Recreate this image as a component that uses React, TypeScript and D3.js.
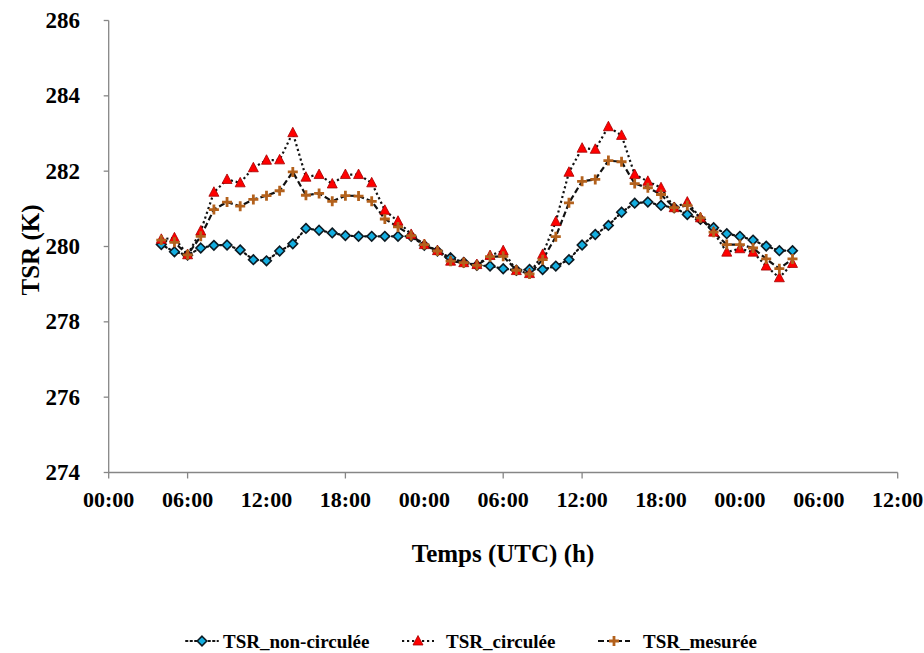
import React from "react";
import * as d3 from "d3";

const hours = [4, 5, 6, 7, 8, 9, 10, 11, 12, 13, 14, 15, 16, 17, 18, 19, 20, 21, 22, 23, 24, 25, 26, 27, 28, 29, 30, 31, 32, 33, 34, 35, 36, 37, 38, 39, 40, 41, 42, 43, 44, 45, 46, 47, 48, 49, 50, 51, 52];

const nonCirculee = [280.05, 279.86, 279.77, 279.96, 280.03, 280.04, 279.91, 279.65, 279.62, 279.88, 280.07, 280.48, 280.43, 280.36, 280.29, 280.27, 280.27, 280.27, 280.27, 280.27, 280.03, 279.88, 279.70, 279.58, 279.50, 279.48, 279.41, 279.37, 279.39, 279.39, 279.48, 279.65, 280.04, 280.32, 280.56, 280.91, 281.15, 281.18, 281.09, 281.03, 280.85, 280.72, 280.50, 280.34, 280.27, 280.17, 280.01, 279.89, 279.89];

const circulee = [280.19, 280.23, 279.78, 280.41, 281.44, 281.78, 281.69, 282.09, 282.29, 282.30, 283.02, 281.84, 281.91, 281.66, 281.91, 281.91, 281.69, 280.96, 280.67, 280.32, 280.05, 279.89, 279.61, 279.57, 279.52, 279.76, 279.89, 279.36, 279.28, 279.79, 280.66, 281.97, 282.61, 282.58, 283.18, 282.95, 281.91, 281.73, 281.56, 281.03, 281.18, 280.76, 280.38, 279.85, 279.94, 279.85, 279.48, 279.17, 279.55];

const mesuree = [280.17, 280.11, 279.78, 280.27, 280.98, 281.18, 281.07, 281.25, 281.35, 281.48, 281.98, 281.36, 281.41, 281.20, 281.35, 281.34, 281.20, 280.73, 280.52, 280.29, 280.05, 279.88, 279.61, 279.57, 279.50, 279.73, 279.74, 279.37, 279.27, 279.65, 280.26, 281.16, 281.73, 281.78, 282.28, 282.25, 281.67, 281.56, 281.38, 281.03, 281.09, 280.76, 280.38, 280.05, 280.05, 279.96, 279.67, 279.41, 279.67];

const xTickHours = [0, 6, 12, 18, 24, 30, 36, 42, 48, 54, 60];
const xTickLabels = ["00:00", "06:00", "12:00", "18:00", "00:00", "06:00", "12:00", "18:00", "00:00", "06:00", "12:00"];
const xTickMarkHours = [0, 6, 18, 30, 36, 60];
const yTicks = [274, 276, 278, 280, 282, 284, 286];

const seriesNames = ["TSR_non-circulée", "TSR_circulée", "TSR_mesurée"];

const FONT = "Liberation Serif";
const AXIS = "#868686";
const txt = (size: number): React.CSSProperties => ({
  fontFamily: FONT,
  fontWeight: 700,
  fontSize: size,
});

function Diamond({ x, y }: { x: number; y: number }) {
  const r = 4.8;
  return (
    <path
      d={`M${x},${y - r}L${x + r},${y}L${x},${y + r}L${x - r},${y}Z`}
      fill="#14aee0"
      stroke="#0d1a22"
      strokeWidth={1.6}
    />
  );
}

function Triangle({ x, y }: { x: number; y: number }) {
  return (
    <path
      d={`M${x},${y - 5.5}L${x + 5},${y + 4}L${x - 5},${y + 4}Z`}
      fill="#ff0000"
      stroke="#a30000"
      strokeWidth={0.8}
    />
  );
}

function Plus({ x, y }: { x: number; y: number }) {
  const r = 5;
  return (
    <path
      d={`M${x - r},${y}L${x + r},${y}M${x},${y - r}L${x},${y + r}`}
      stroke="#b3611c"
      strokeWidth={2.8}
      fill="none"
    />
  );
}

export default function App() {
  const W = 924;
  const H = 653;
  const x = d3.scaleLinear().domain([0, 60]).range([108.7, 897.7]);
  const y = d3.scaleLinear().domain([274, 286]).range([472.5, 20.5]);

  const line = d3
    .line<number>()
    .x((_, i) => x(hours[i]))
    .y((d) => y(d));

  const legendY = 641;
  const legendItems = [
    { sx: 186, tx: 223, name: seriesNames[0], kind: 0 },
    { sx: 402, tx: 446, name: seriesNames[1], kind: 1 },
    { sx: 598, tx: 643, name: seriesNames[2], kind: 2 },
  ];

  return (
    <svg
      width={W}
      height={H}
      style={{ position: "absolute", left: 0, top: 0, background: "#fff" }}
    >
      <rect width={W} height={H} fill="#fff" />
      {/* Y axis */}
      <line x1={x(0)} x2={x(0)} y1={y(286)} y2={y(274)} stroke={AXIS} strokeWidth={1.3} />
      {yTicks.map((t) => (
        <g key={t}>
          <line x1={x(0) - 5} x2={x(0)} y1={y(t)} y2={y(t)} stroke={AXIS} strokeWidth={1.3} />
          <text
            x={80}
            y={y(t)}
            textAnchor="end"
            dominantBaseline="central"
            style={txt(23)}
            fill="#000"
          >
            {t}
          </text>
        </g>
      ))}
      {/* X axis */}
      <line x1={x(0)} x2={x(60)} y1={y(274)} y2={y(274)} stroke={AXIS} strokeWidth={1.3} />
      {xTickMarkHours.map((h) => (
        <line key={h} x1={x(h)} x2={x(h)} y1={y(274)} y2={y(274) + 6} stroke={AXIS} strokeWidth={1.3} />
      ))}
      {xTickHours.map((h, i) => (
        <text
          key={i}
          x={x(h)}
          y={499}
          textAnchor="middle"
          dominantBaseline="central"
          style={txt(22)}
          fill="#000"
        >
          {xTickLabels[i]}
        </text>
      ))}
      {/* Axis titles */}
      <text
        x={503}
        y={553}
        textAnchor="middle"
        dominantBaseline="central"
        style={txt(25)}
      >
        Temps (UTC) (h)
      </text>
      <text
        transform={`translate(30,250) rotate(-90)`}
        textAnchor="middle"
        dominantBaseline="central"
        style={txt(25)}
      >
        TSR (K)
      </text>

      {/* Lines */}
      <path d={line(nonCirculee) || ""} fill="none" stroke="#111" strokeWidth={2.2} strokeDasharray="1.5,3" strokeLinecap="round" />
      <path d={line(circulee) || ""} fill="none" stroke="#111" strokeWidth={2.2} strokeDasharray="2.2,2.8" />
      <path d={line(mesuree) || ""} fill="none" stroke="#111" strokeWidth={2.2} strokeDasharray="6,3" />

      {/* Markers */}
      {nonCirculee.map((v, i) => (
        <Diamond key={"d" + i} x={x(hours[i])} y={y(v)} />
      ))}
      {circulee.map((v, i) => (
        <Triangle key={"t" + i} x={x(hours[i])} y={y(v)} />
      ))}
      {mesuree.map((v, i) => (
        <Plus key={"p" + i} x={x(hours[i])} y={y(v)} />
      ))}

      {/* Legend */}
      {legendItems.map((it) => (
        <g key={it.name}>
          <line
            x1={it.sx}
            x2={it.sx + 32}
            y1={legendY}
            y2={legendY}
            stroke="#111"
            strokeWidth={2}
            strokeDasharray={it.kind === 2 ? "6,3" : it.kind === 0 ? "1.5,3" : "2.2,2.8"}
            strokeLinecap={it.kind === 0 ? "round" : "butt"}
          />
          {it.kind === 0 && <Diamond x={it.sx + 16} y={legendY} />}
          {it.kind === 1 && <Triangle x={it.sx + 16} y={legendY} />}
          {it.kind === 2 && <Plus x={it.sx + 16} y={legendY} />}
          <text x={it.tx} y={legendY} dominantBaseline="central" style={txt(19)}>
            {it.name}
          </text>
        </g>
      ))}
    </svg>
  );
}
